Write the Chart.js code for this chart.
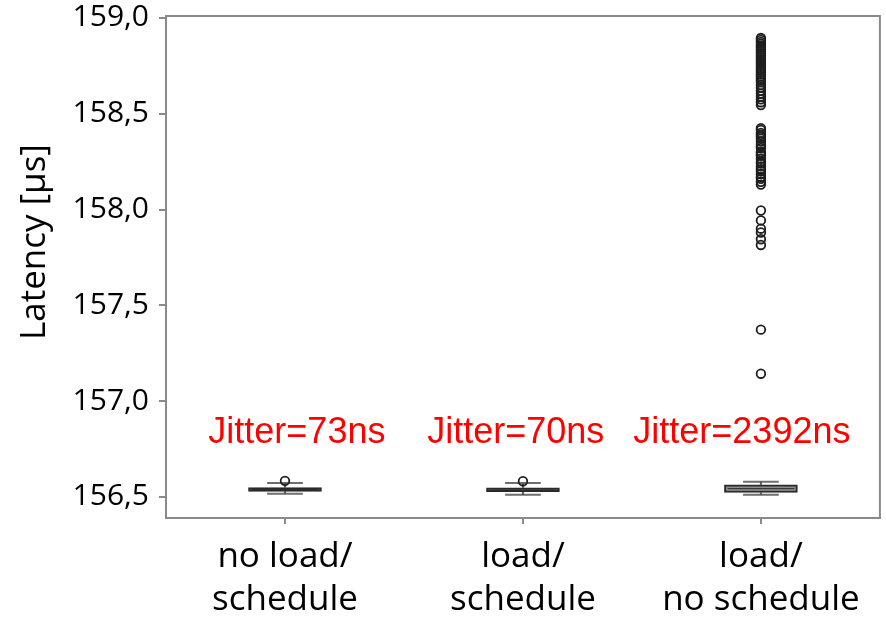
<!DOCTYPE html>
<html lang="en">
<head>
  <meta charset="UTF-8" />
  <title>Latency box plot</title>
  <script src="https://cdn.jsdelivr.net/npm/chart.js"></script>
  <style>
    html, body {
      margin: 0;
      padding: 0;
      background: #fff;
    }

    #wrap {
      width: 886px;
      height: 618px;
    }
  </style>
</head>
<body>
  <div id="wrap"><canvas id="chart"></canvas></div>

  <script>
    // data (values in µs)
    const categories = [["no load/", "schedule"], ["load/", "schedule"], ["load/", "no schedule"]];
    const jitterLabels = ["Jitter=73ns", "Jitter=70ns", "Jitter=2392ns"];
    const yTicks = [156.5, 157.0, 157.5, 158.0, 158.5, 159.0];
    const yTitle = "Latency [µs]";

    const whiskerLow  = [156.516, 156.511, 156.511];
    const q1          = [156.529, 156.527, 156.523];
    const median      = [156.539, 156.537, 156.543];
    const q3          = [156.549, 156.548, 156.563];
    const whiskerHigh = [156.573, 156.573, 156.579];

    const outliers = [
      [156.584],
      [156.582],
      [158.895, 158.885, 158.875, 158.865, 158.855, 158.845, 158.835, 158.825, 158.815, 158.805,
       158.795, 158.785, 158.775, 158.765, 158.755, 158.745, 158.735, 158.725, 158.715, 158.705,
       158.695, 158.685, 158.675, 158.665, 158.65, 158.635, 158.62, 158.605, 158.59, 158.575, 158.56,
       158.545, 158.425, 158.415, 158.40, 158.39, 158.38, 158.37, 158.355, 158.34, 158.33, 158.32,
       158.30, 158.29, 158.28, 158.265, 158.25, 158.24, 158.225, 158.21, 158.20, 158.185, 158.17,
       158.16, 158.145, 158.13,
       157.995, 157.943, 157.90, 157.88, 157.845, 157.815,
       157.373, 157.143]
    ];

    // where the jitter notes sit (x in category units, y in µs)
    const jitterX = [1.05, 1.97, 2.92];
    const JITTER_Y = 156.835;
    const CAP = 0.075;

    const catX = categories.map((c, i) => i + 1);

    const boxData = catX.map((x, i) => ({ x: x, y: [q1[i], q3[i]] }));

    const stemData = [];
    const capData = [];
    const medianData = [];
    catX.forEach((x, i) => {
      stemData.push({ x: x, y: whiskerLow[i] }, { x: x, y: q1[i] }, { x: x, y: null });
      stemData.push({ x: x, y: q3[i] }, { x: x, y: whiskerHigh[i] }, { x: x, y: null });
      capData.push({ x: x - CAP, y: whiskerLow[i] }, { x: x + CAP, y: whiskerLow[i] }, { x: x, y: null });
      capData.push({ x: x - CAP, y: whiskerHigh[i] }, { x: x + CAP, y: whiskerHigh[i] }, { x: x, y: null });
      medianData.push({ x: x - 0.14, y: median[i] }, { x: x + 0.14, y: median[i] }, { x: x, y: null });
    });

    const outlierData = [];
    outliers.forEach((list, i) => {
      list.forEach(v => outlierData.push({ x: catX[i], y: v }));
    });

    // top/right frame of the plot box
    const framePlugin = {
      id: "frame",
      beforeDatasetsDraw(chart) {
        const a = chart.chartArea;
        const ctx = chart.ctx;
        ctx.save();
        ctx.strokeStyle = "#8a8a8a";
        ctx.lineWidth = 2;
        ctx.strokeRect(a.left, a.top, a.right - a.left, a.bottom - a.top);
        ctx.restore();
      }
    };

    // red jitter notes + y title (title sits a bit above the axis centre in the original)
    const textPlugin = {
      id: "texts",
      afterDatasetsDraw(chart) {
        const ctx = chart.ctx;
        const xs = chart.scales.x;
        const ys = chart.scales.y;
        ctx.save();
        ctx.fillStyle = "#ff0000";
        ctx.font = "36px 'Liberation Sans', Arial, sans-serif";
        ctx.textAlign = "center";
        ctx.textBaseline = "middle";
        jitterLabels.forEach((t, i) => {
          ctx.fillText(t, xs.getPixelForValue(jitterX[i]), ys.getPixelForValue(JITTER_Y));
        });
        ctx.restore();

        ctx.save();
        ctx.translate(35, ys.getPixelForValue(157.83));
        ctx.rotate(-Math.PI / 2);
        ctx.fillStyle = "#000";
        ctx.font = "35px 'Open Sans', sans-serif";
        ctx.textAlign = "center";
        ctx.textBaseline = "middle";
        ctx.fillText(yTitle, 0, 0);
        ctx.restore();
      }
    };

    new Chart(document.getElementById("chart"), {
      type: "bar",
      data: {
        datasets: [
          {
            type: "line",
            data: stemData,
            borderColor: "#555",
            borderWidth: 2,
            pointRadius: 0,
            spanGaps: false,
            order: 3
          },
          {
            type: "line",
            data: capData,
            borderColor: "#6e6e6e",
            borderWidth: 2,
            pointRadius: 0,
            spanGaps: false,
            order: 3
          },
          {
            type: "bar",
            data: boxData,
            backgroundColor: ["#3a3a3a", "#3a3a3a", "#8c8c8c"],
            borderColor: "#2a2a2a",
            borderWidth: 2,
            borderSkipped: false,
            barThickness: 73,
            order: 2
          },
          {
            type: "line",
            data: medianData,
            borderColor: "#2a2a2a",
            borderWidth: 1,
            pointRadius: 0,
            spanGaps: false,
            order: 1
          },
          {
            type: "scatter",
            data: outlierData,
            showLine: false,
            pointStyle: "circle",
            pointRadius: 4.3,
            pointBorderWidth: 1.8,
            pointBorderColor: "#1e1e1e",
            pointBackgroundColor: "rgba(255,255,255,0)",
            order: 0
          }
        ]
      },
      options: {
        responsive: true,
        maintainAspectRatio: false,
        animation: false,
        layout: {
          padding: { top: 16, right: 5, left: 0, bottom: 0 }
        },
        plugins: {
          legend: { display: false },
          tooltip: { enabled: false }
        },
        scales: {
          x: {
            type: "linear",
            min: 0.5,
            max: 3.5,
            offset: false,
            afterBuildTicks(scale) {
              scale.ticks = catX.map(v => ({ value: v }));
            },
            afterFit(scale) {
              scale.height = 100;
            },
            ticks: {
              autoSkip: false,
              maxRotation: 0,
              padding: 11,
              color: "#000",
              font: { family: "'Open Sans', sans-serif", size: 35, lineHeight: 1.24 },
              callback: v => categories[Math.round(v) - 1]
            },
            grid: {
              offset: false,
              drawOnChartArea: false,
              drawTicks: true,
              tickLength: 6,
              color: "#8a8a8a",
              lineWidth: 2
            },
            border: { display: true, color: "#8a8a8a", width: 2 }
          },
          y: {
            type: "linear",
            min: 156.39,
            max: 159.01,
            afterBuildTicks(scale) {
              scale.ticks = yTicks.map(v => ({ value: v }));
            },
            afterFit(scale) {
              scale.width = 166;
              scale.paddingTop = 0;
              scale.paddingBottom = 0;
            },
            ticks: {
              padding: 10,
              color: "#000",
              font: { family: "'Open Sans', sans-serif", size: 30, lineHeight: 0.5 },
              callback: v => v.toFixed(1).replace(".", ",")
            },
            grid: {
              drawOnChartArea: false,
              drawTicks: true,
              tickLength: 7,
              color: "#8a8a8a",
              lineWidth: 2
            },
            border: { display: true, color: "#8a8a8a", width: 2 }
          }
        }
      },
      plugins: [framePlugin, textPlugin]
    });
  </script>
</body>
</html>
